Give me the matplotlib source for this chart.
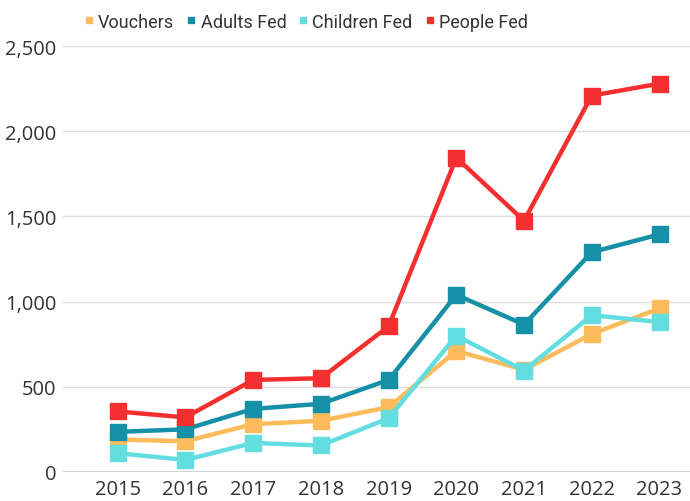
import matplotlib.pyplot as plt
from matplotlib.ticker import FuncFormatter

# data
years = [2015, 2016, 2017, 2018, 2019, 2020, 2021, 2022, 2023]
vouchers = [190, 180, 280, 300, 380, 710, 600, 810, 960]
adults_fed = [235, 250, 370, 400, 540, 1040, 865, 1290, 1395]
children_fed = [110, 70, 170, 155, 315, 800, 595, 920, 880]
people_fed = [355, 320, 540, 550, 855, 1845, 1475, 2210, 2280]

series = [
    ("Vouchers", vouchers, "#FDBC5C"),
    ("Adults Fed", adults_fed, "#1690A6"),
    ("Children Fed", children_fed, "#63DDE0"),
    ("People Fed", people_fed, "#F3302F"),
]

plt.rcParams['font.family'] = ['Open Sans', 'DejaVu Sans']

fig = plt.figure(figsize=(6.9, 5.02), dpi=100)
ax = fig.add_axes([0.092, 0.058, 0.908, 0.848])

for name, vals, col in series:
    ax.plot(years, vals, color=col, lw=3.2, marker='s', ms=11, label=name,
            clip_on=False, zorder=3)

ax.set_ylim(0, 2500)
ax.set_xlim(2014.2, 2023.45)
ax.set_yticks([0, 500, 1000, 1500, 2000, 2500])
ax.yaxis.set_major_formatter(FuncFormatter(lambda v, p: f"{int(v):,}"))
ax.set_xticks(years)
ax.grid(axis='y', color='#dddddd', lw=1)
ax.axhline(0, color='#cccccc', lw=1.2, zorder=1)
ax.set_axisbelow(True)
for s in ax.spines.values():
    s.set_visible(False)
ax.tick_params(length=0, labelsize=14.5, colors='#333333')
ax.tick_params(axis='x', pad=5)
ax.tick_params(axis='y', pad=5)

handles = [plt.Line2D([], [], ls='none', marker='s', ms=5, color=c) for _, _, c in series]
fig.legend(handles, [n for n, _, _ in series], loc='center left',
           bbox_to_anchor=(0.124, 0.955), ncol=4, frameon=False,
           prop={'family': ['Roboto', 'Open Sans'], 'size': 13},
           handlelength=0.4, handletextpad=0.3, columnspacing=0.75,
           borderaxespad=0, borderpad=0, labelcolor='#333333')

fig.savefig("out.png")
